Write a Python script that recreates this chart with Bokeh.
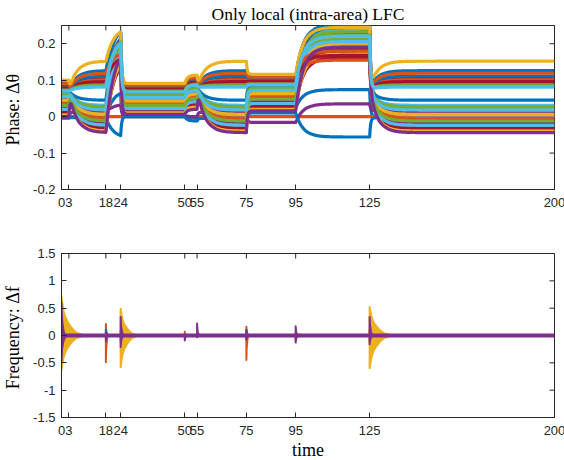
import numpy as np
from bokeh.plotting import figure
from bokeh.layouts import column
from bokeh.models import FixedTicker, Range1d
from bokeh.embed import file_html
from bokeh.resources import INLINE

# MATLAB-style default colour order
COLORS = ["#0072BD", "#D95319", "#EDB120", "#7E2F8E", "#77AC30", "#4DBEEE", "#A2142F"]

# disturbance instants (segment boundaries)
EVENT_TIMES = [0, 3, 18, 24, 50, 55, 75, 95, 125, 200]
X_TICKS = [0, 3, 18, 24, 50, 55, 75, 95, 125, 200]
X_TICK_LABELS = ["0", "3", "18", "24", "50", "55", "75", "95", "125", "200"]
PHASE_TICKS = [-0.2, -0.1, 0, 0.1, 0.2]
PHASE_TICK_LABELS = ["-0.2", "-0.1", "0", "0.1", "0.2"]
FREQ_TICKS = [-1.5, -1, -0.5, 0, 0.5, 1, 1.5]
FREQ_TICK_LABELS = ["-1.5", "-1", "-0.5", "0", "0.5", "1", "1.5"]

N_LINES = 34

# steady phase levels of the 30 ordinary buses, lowest to highest, per operating point
S0_LEVELS = [0.000, 0.004, 0.008, 0.012, 0.016, 0.020, 0.024, 0.028, 0.031, 0.035,
             0.038, 0.042, 0.045, 0.048, 0.052, 0.055, 0.058, 0.061, 0.064, 0.067,
             0.070, 0.073, 0.076, 0.079, 0.082, 0.085, 0.088, 0.091, 0.095, 0.100]
FAN_LEVELS = [-0.044, -0.040, -0.036, -0.032, -0.028, -0.024, -0.020, -0.016, -0.012, -0.008,
              -0.004, 0.002, 0.006, 0.010, 0.014, 0.018, 0.023, 0.027, 0.031, 0.045,
              0.081, 0.087, 0.091, 0.096, 0.101, 0.106, 0.111, 0.119, 0.126, 0.152]
HIGH_LEVELS = [0.155, 0.160, 0.164, 0.168, 0.172, 0.176, 0.180, 0.184, 0.188, 0.191,
               0.194, 0.197, 0.200, 0.203, 0.206, 0.209, 0.212, 0.215, 0.218, 0.221,
               0.224, 0.227, 0.230, 0.233, 0.236, 0.239, 0.242, 0.245, 0.248, 0.252]
BAND1_LEVELS = [0.006, 0.010, 0.013, 0.016, 0.019, 0.022, 0.025, 0.028, 0.031, 0.034,
                0.037, 0.040, 0.043, 0.046, 0.049, 0.052, 0.055, 0.058, 0.061, 0.064,
                0.067, 0.070, 0.073, 0.076, 0.079, 0.081, 0.084, 0.086, 0.088, 0.091]
BUMP_LEVELS = [0.020, 0.026, 0.030, 0.034, 0.038, 0.041, 0.044, 0.047, 0.050, 0.053,
               0.056, 0.059, 0.062, 0.065, 0.068, 0.071, 0.074, 0.077, 0.080, 0.083,
               0.086, 0.089, 0.092, 0.095, 0.098, 0.101, 0.104, 0.107, 0.110, 0.114]
BAND2_LEVELS = [0.016, 0.020, 0.024, 0.028, 0.032, 0.036, 0.040, 0.044, 0.048, 0.052,
                0.056, 0.060, 0.063, 0.066, 0.069, 0.072, 0.075, 0.078, 0.081, 0.084,
                0.087, 0.090, 0.093, 0.096, 0.099, 0.102, 0.105, 0.108, 0.111, 0.116]

LEVEL_SETS = {"s0": S0_LEVELS, "fan": FAN_LEVELS, "high": HIGH_LEVELS,
              "band1": BAND1_LEVELS, "bump": BUMP_LEVELS, "band2": BAND2_LEVELS}
SEGMENT_LEVEL_SET = ["s0", "fan", "high", "band1", "bump", "fan", "band2", "high", "fan"]
SEGMENT_MODE = ["hold", "pinch", "slow", "fast", "med", "pinch", "fast", "slow", "pinch"]
SEGMENT_PINCH = [None, 0.070, None, None, None, 0.080, None, None, 0.075]

# which line index carries each rank (0 = lowest)
RANK_TO_LINE = [31, 16, 9, 13, 8, 19, 2, 17, 25, 6, 15, 12, 23, 4, 10,
                26, 11, 18, 5, 14, 33, 32, 24, 27, 22, 20, 28, 29, 21, 30]
# ordering of the same buses at the heavily loaded operating point
HIGH_RANK_TO_LINE = [22, 13, 8, 27, 16, 6, 29, 20, 15, 31, 4, 12, 23, 10, 26,
                     11, 18, 5, 9, 33, 32, 24, 17, 25, 19, 2, 14, 30, 21, 28]

# buses with their own behaviour: per-segment levels
SPECIAL_LEVELS = {
    0: [0.000, 0.000, 0.074, 0.000, -0.004, 0.000, 0.024, 0.074, 0.000],
    1: [0.000, 0.000, 0.000, 0.000, 0.000, 0.000, 0.000, 0.000, 0.000],
    3: [-0.004, 0.012, 0.035, 0.003, 0.000, 0.012, -0.016, 0.035, 0.017],
    7: [0.000, -0.003, -0.060, 0.000, -0.012, -0.005, 0.010, -0.056, -0.003],
}

# remaining fraction of a step response vs. elapsed time
FAST_T = [0, 0.2, 0.4, 0.6, 0.8, 1.0, 1.4, 2.0, 3.0]
FAST_R = [1, 0.60, 0.36, 0.22, 0.13, 0.08, 0.03, 0.006, 0]
MED_T = [0, 0.5, 1, 1.5, 2, 3, 4, 6]
MED_R = [1, 0.60, 0.37, 0.22, 0.14, 0.05, 0.02, 0]
SLOW_T = [0, 1, 2, 3, 4, 5, 6, 8, 10, 12, 15, 20, 30]
SLOW_R = [1, 0.72, 0.51, 0.37, 0.26, 0.19, 0.14, 0.07, 0.036, 0.018, 0.007, 0.001, 0]
SHAPES = {"fast": (FAST_T, FAST_R), "med": (MED_T, MED_R), "slow": (SLOW_T, SLOW_R)}

# frequency excursions after each disturbance: series, peak up/down, decay length
SPIKE_T = [0, 0, 0, 0, 18, 18, 18, 24, 24, 24, 50, 50, 55, 55, 75, 75, 75, 95, 95, 95, 125, 125, 125]
SPIKE_SERIES = [2, 5, 1, 3, 1, 0, 3, 2, 1, 3, 1, 3, 2, 3, 1, 0, 3, 2, 1, 3, 2, 1, 3]
SPIKE_UP = [0.71, 0.18, 0.05, 0.60, 0.21, 0.11, 0.06, 0.49, 0.08, 0.34, 0.07, 0.02,
            0.03, 0.22, 0.16, 0.10, 0.10, 0.05, 0.04, 0.17, 0.52, 0.10, 0.34]
SPIKE_DOWN = [-0.63, -0.22, -0.38, -0.47, -0.49, -0.04, -0.10, -0.58, -0.10, -0.21, -0.02, -0.09,
              -0.03, -0.03, -0.45, -0.04, -0.08, -0.04, -0.09, -0.13, -0.60, -0.10, -0.16]
SPIKE_SPAN = [9, 3, 2.5, 1.6, 0.9, 0.9, 1.0, 7, 1.5, 1.3, 0.9, 0.9,
              2, 1.0, 0.9, 0.9, 1.0, 5, 0.9, 1.0, 9, 1.5, 1.3]
ENV_T = [0, 0.02, 0.05, 0.10, 0.15, 0.20, 0.30, 0.45, 0.65, 1.0]
ENV_R = [1, 0.90, 0.78, 0.62, 0.52, 0.44, 0.33, 0.20, 0.08, 0]
FREQ_STEADY = 0.0

AXIS_COLOR = "#262626"
TICK_FONT = "Liberation Sans"
LABEL_FONT = "Liberation Serif"
TICK_LEN = 5


def remaining(mode, dt):
    tx, ty = SHAPES[mode]
    return np.interp(dt, tx, ty, right=0.0)


def segment_value(k, dt, y0, level, special):
    mode = SEGMENT_MODE[k]
    if mode == "hold":
        return np.full_like(np.atleast_1d(dt), level, dtype=float)
    if mode == "pinch":
        if special:
            return level + (y0 - level) * remaining("fast", dt)
        pv = SEGMENT_PINCH[k]
        return level + (pv - level) * remaining("slow", dt) + (y0 - pv) * remaining("fast", dt)
    return level + (y0 - level) * remaining(mode, dt)


t = np.round(np.arange(0, 200.0001, 0.05), 4)


def trajectory(line):
    special = line in SPECIAL_LEVELS
    if special:
        levels = SPECIAL_LEVELS[line]
    else:
        rank = RANK_TO_LINE.index(line)
        high_rank = HIGH_RANK_TO_LINE.index(line)
        levels = [LEVEL_SETS[name][high_rank if name == "high" else rank]
                  for name in SEGMENT_LEVEL_SET]
    y = np.zeros_like(t)
    y0 = levels[0]
    for k in range(len(SEGMENT_MODE)):
        ts, te = EVENT_TIMES[k], EVENT_TIMES[k + 1]
        if k < len(SEGMENT_MODE) - 1:
            mask = (t >= ts) & (t < te)
        else:
            mask = (t >= ts) & (t <= te)
        y[mask] = segment_value(k, t[mask] - ts, y0, levels[k], special)
        y0 = float(segment_value(k, np.array([te - ts]), y0, levels[k], special)[0])
    return y


def style(p, xticks, xlabels, yticks, ylabels):
    p.outline_line_color = AXIS_COLOR
    p.outline_line_width = 1
    p.xgrid.visible = False
    p.ygrid.visible = False
    xax, yax = p.below[0], p.left[0]
    for ax, ticks, labels in ((xax, xticks, xlabels), (yax, yticks, ylabels)):
        ax.ticker = FixedTicker(ticks=ticks)
        ax.major_label_overrides = {tk: lb for tk, lb in zip(ticks, labels)}
        ax.major_tick_in = TICK_LEN
        ax.major_tick_out = 0
        ax.minor_tick_line_color = None
        ax.axis_line_color = AXIS_COLOR
        ax.major_tick_line_color = AXIS_COLOR
        ax.major_label_text_font = TICK_FONT
        ax.major_label_text_font_size = "13px"
        ax.major_label_text_color = AXIS_COLOR
        ax.axis_label_text_font = LABEL_FONT
        ax.axis_label_text_font_style = "normal"
        ax.axis_label_text_font_size = "18px"
        ax.axis_label_text_color = "black"
    xax.major_label_standoff = 8
    yax.major_label_standoff = 6
    # inward ticks on the top and right edges of the box
    x1 = p.x_range.end
    y1 = p.y_range.end
    p.ray(x=xticks, y=[y1] * len(xticks), length=TICK_LEN, length_units="screen",
          angle=-np.pi / 2, line_color=AXIS_COLOR, line_width=1)
    p.ray(x=[x1] * len(yticks), y=yticks, length=TICK_LEN, length_units="screen",
          angle=np.pi, line_color=AXIS_COLOR, line_width=1)
    return xax, yax


FRAME_W, FRAME_H = 493, 164

# ---- phase panel ----
p1 = figure(frame_width=FRAME_W, frame_height=FRAME_H, x_range=Range1d(0, 200), y_range=Range1d(-0.2, 0.25),
            output_backend="svg", toolbar_location=None,
            min_border_left=59, min_border_right=12, min_border_top=25, min_border_bottom=30)
p1.title.text = "Only local (intra-area) LFC"
p1.title.align = "center"
p1.title.text_font = LABEL_FONT
p1.title.text_font_size = "17.5px"
p1.title.text_font_style = "normal"
p1.title.text_color = "black"
p1.title.standoff = 3
xax1, yax1 = style(p1, X_TICKS, X_TICK_LABELS, PHASE_TICKS, PHASE_TICK_LABELS)
yax1.axis_label = "Phase:  \u0394\u03b8"
yax1.axis_label_standoff = 7

for i in range(N_LINES):
    p1.line(t, trajectory(i), line_color=COLORS[i % 7], line_width=3.2, line_join="round")

# ---- frequency panel ----
p2 = figure(frame_width=FRAME_W, frame_height=FRAME_H, x_range=Range1d(0, 200), y_range=Range1d(-1.5, 1.5),
            output_backend="svg", toolbar_location=None,
            min_border_left=59, min_border_right=12, min_border_top=34, min_border_bottom=42)
xax2, yax2 = style(p2, X_TICKS, X_TICK_LABELS, FREQ_TICKS, FREQ_TICK_LABELS)
yax2.axis_label = "Frequency:  \u0394f"
yax2.axis_label_standoff = 7
xax2.axis_label = "time"
xax2.axis_label_standoff = 2

env_t = np.array(ENV_T)
env_r = np.array(ENV_R)


def draw_spikes(series):
    for ts, s, up, dn, span in zip(SPIKE_T, SPIKE_SERIES, SPIKE_UP, SPIKE_DOWN, SPIKE_SPAN):
        if s != series:
            continue
        xs = ts + env_t * span
        upper = up * env_r
        lower = dn * env_r
        px = np.concatenate([[ts], xs, xs[::-1]])
        py = np.concatenate([[FREQ_STEADY], upper, lower[::-1]])
        p2.patch(px, py, fill_color=COLORS[s], line_color=COLORS[s], line_width=2, line_join="round")


for s in (2, 5, 1, 0):
    draw_spikes(s)
p2.line([EVENT_TIMES[0], EVENT_TIMES[-1]], [FREQ_STEADY, FREQ_STEADY],
        line_color=COLORS[3], line_width=4)
draw_spikes(3)

layout = column(p1, p2)
open("out.html", "w").write(file_html(layout, INLINE))
